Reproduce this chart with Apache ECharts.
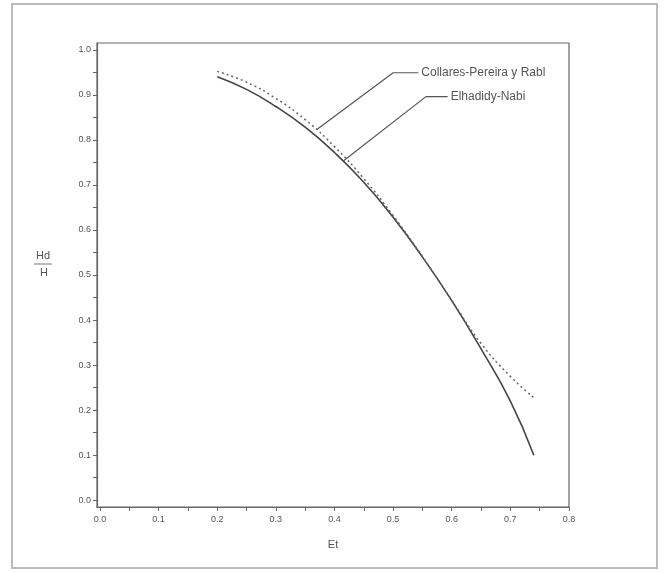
<!DOCTYPE html>
<html><head><meta charset="utf-8">
<script src="https://cdn.jsdelivr.net/npm/echarts@6/dist/echarts.min.js"></script>
<style>html,body{margin:0;padding:0;background:#fff}#c{width:665px;height:573px}</style>
</head><body><div id="c"></div>
<script>
// Data
const xTickLabels = [0, 0.1, 0.2, 0.3, 0.4, 0.5, 0.6, 0.7, 0.8];
const yTickLabels = [0, 0.1, 0.2, 0.3, 0.4, 0.5, 0.6, 0.7, 0.8, 0.9, 1.0];
const xMinorTicks = [0,0.05,0.1,0.15,0.2,0.25,0.3,0.35,0.4,0.45,0.5,0.55,0.6,0.65,0.7,0.75,0.8];
const yMinorTicks = [0,0.05,0.1,0.15,0.2,0.25,0.3,0.35,0.4,0.45,0.5,0.55,0.6,0.65,0.7,0.75,0.8,0.85,0.9,0.95,1.0];

const elhadidyX = [0.20, 0.25, 0.30, 0.35, 0.40, 0.45, 0.50, 0.55, 0.60, 0.65, 0.70, 0.74];
const elhadidyY = [0.940, 0.912, 0.874, 0.828, 0.772, 0.706, 0.628, 0.540, 0.443, 0.336, 0.220, 0.100];
const collaresX = [0.20, 0.25, 0.30, 0.35, 0.40, 0.45, 0.50, 0.55, 0.60, 0.65, 0.70, 0.74];
const collaresY = [0.952, 0.928, 0.892, 0.845, 0.785, 0.714, 0.632, 0.541, 0.444, 0.348, 0.275, 0.228];

// annotation pointers (value space): tip, elbow, end
const collaresPointerX = [0.37, 0.50, 0.543];
const collaresPointerY = [0.823, 0.949, 0.949];
const elhadidyPointerX = [0.415, 0.556, 0.593];
const elhadidyPointerY = [0.753, 0.896, 0.896];

const zip = (a, b) => a.map((v, i) => [v, b[i]]);
const txt = '#555';
const font = '"Liberation Sans", Arial, sans-serif';

const chart = echarts.init(document.getElementById('c'), null, {renderer: 'canvas'});
chart.setOption({
  animation: false,
  backgroundColor: '#fff',
  grid: {left: 97, right: 96, top: 43, bottom: 66, show: true, borderColor: '#666', borderWidth: 1.2},
  xAxis: {
    type: 'value', min: -0.005, max: 0.8,
    name: 'Et', nameLocation: 'middle', nameGap: 32,
    nameTextStyle: {color: txt, fontSize: 11, fontFamily: font},
    axisLine: {onZero: false, lineStyle: {color: '#666', width: 1.2}},
    axisTick: {show: true, customValues: xMinorTicks, length: 4, lineStyle: {color: '#666'}},
    axisLabel: {customValues: xTickLabels, formatter: v => v.toFixed(1), color: txt, fontSize: 9, fontFamily: font, margin: 8},
    splitLine: {show: false}
  },
  yAxis: {
    type: 'value', min: -0.015, max: 1.015,
    axisLine: {show: true, onZero: false, lineStyle: {color: '#666', width: 1.2}},
    axisTick: {show: true, customValues: yMinorTicks, length: 4, lineStyle: {color: '#666'}},
    axisLabel: {customValues: yTickLabels, formatter: v => v.toFixed(1), color: txt, fontSize: 9, fontFamily: font, margin: 6},
    splitLine: {show: false}
  },
  series: [
    {name: 'Elhadidy-Nabi', type: 'line', smooth: true, symbol: 'none',
     data: zip(elhadidyX, elhadidyY), lineStyle: {color: '#444', width: 1.6}},
    {name: 'Collares-Pereira y Rabl', type: 'line', smooth: true, symbol: 'none',
     data: zip(collaresX, collaresY), lineStyle: {color: '#666', width: 1.5, type: [2, 3]}},
    {name: 'Collares-Pereira y Rabl', type: 'line', symbol: 'none', silent: true,
     data: zip(collaresPointerX, collaresPointerY), lineStyle: {color: '#555', width: 1.2},
     endLabel: {show: true, formatter: '{a}', color: txt, fontSize: 12, fontFamily: font, distance: 3}},
    {name: 'Elhadidy-Nabi', type: 'line', symbol: 'none', silent: true,
     data: zip(elhadidyPointerX, elhadidyPointerY), lineStyle: {color: '#555', width: 1.2},
     endLabel: {show: true, formatter: '{a}', color: txt, fontSize: 12, fontFamily: font, distance: 3}}
  ],
  graphic: [
    {type: 'rect', shape: {x: 12, y: 4, width: 645, height: 564}, style: {fill: 'none', stroke: '#bbb', lineWidth: 2}, z: -1},
    {type: 'text', x: 43, y: 256, style: {text: 'Hd', fill: txt, fontSize: 11, fontFamily: font, align: 'center', verticalAlign: 'middle'}},
    {type: 'line', shape: {x1: 34, y1: 264, x2: 52, y2: 264}, style: {stroke: '#777', lineWidth: 1}},
    {type: 'text', x: 44, y: 273, style: {text: 'H', fill: txt, fontSize: 11, fontFamily: font, align: 'center', verticalAlign: 'middle'}}
  ]
});
</script></body></html>
